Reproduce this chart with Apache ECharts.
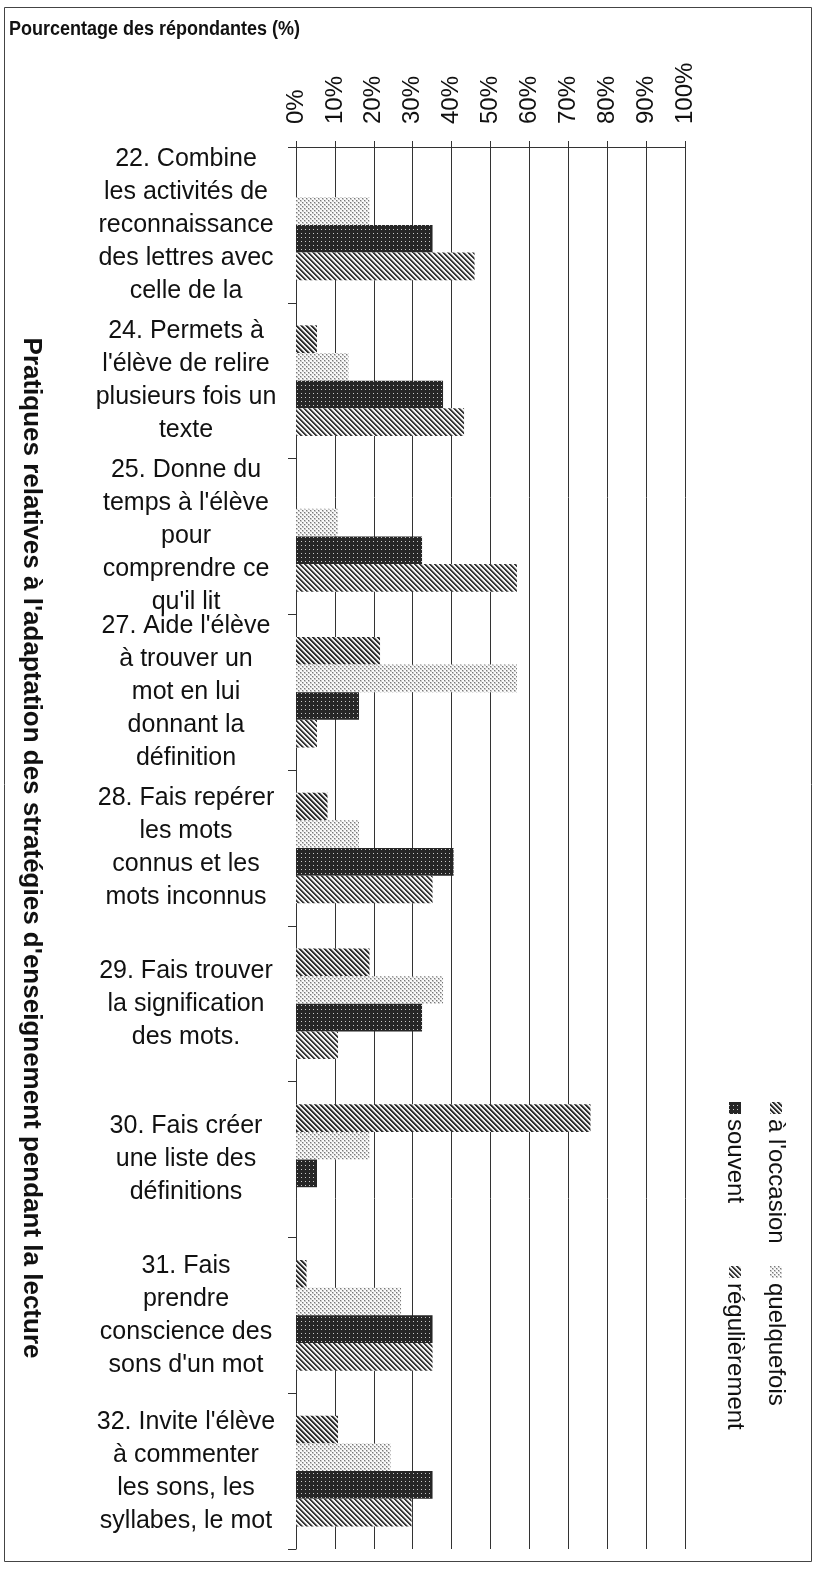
<!DOCTYPE html>
<html>
<head>
<meta charset="utf-8">
<script src="https://cdn.jsdelivr.net/npm/echarts@6/dist/echarts.min.js"></script>
<style>
  html, body { margin: 0; padding: 0; background: #fff; }
  #chart { width: 815px; height: 1572px; }
</style>
</head>
<body>
<div id="chart"></div>
<script>
// Practices (y categories), top to bottom
const categories = [
  "22. Combine\nles activités de\nreconnaissance\ndes lettres avec\ncelle de la",
  "24. Permets à\nl'élève de relire\nplusieurs fois un\ntexte",
  "25. Donne du\ntemps à l'élève\npour\ncomprendre ce\nqu'il lit",
  "27. Aide l'élève\nà trouver un\nmot en lui\ndonnant la\ndéfinition",
  "28. Fais repérer\nles mots\nconnus et les\nmots inconnus",
  "29. Fais trouver\nla signification\ndes mots.",
  "30. Fais créer\nune liste des\ndéfinitions",
  "31. Fais\nprendre\nconscience des\nsons d'un mot",
  "32. Invite l'élève\nà commenter\nles sons, les\nsyllabes, le mot"
];

const seriesNames = ["à l'occasion", "quelquefois", "souvent", "régulièrement"];

// Percentage of respondents per practice
const aLOccasion    = [0, 5.4, 0, 21.6, 8.1, 18.9, 75.7, 2.7, 10.8];
const quelquefois   = [18.9, 13.5, 10.8, 56.8, 16.2, 37.8, 18.9, 27.0, 24.3];
const souvent       = [35.1, 37.8, 32.4, 16.2, 40.5, 32.4, 5.4, 35.1, 35.1];
const regulierement = [45.9, 43.2, 56.8, 5.4, 35.1, 10.8, 0, 35.1, 29.7];

const xTicks = { min: 0, max: 100, interval: 10 };

const titleText = "Pourcentage des répondantes (%)";
const yAxisTitle = "Pratiques relatives à l'adaptation des stratégies d'enseignement pendant la lecture";

// --- fill patterns, built pixel by pixel on small canvases ---
function makePattern(size, painter) {
  const c = document.createElement('canvas');
  c.width = size; c.height = size;
  const ctx = c.getContext('2d');
  const img = ctx.createImageData(size, size);
  for (let y = 0; y < size; y++) {
    for (let x = 0; x < size; x++) {
      const v = painter(x, y);
      const i = (y * size + x) * 4;
      img.data[i] = v; img.data[i + 1] = v; img.data[i + 2] = v; img.data[i + 3] = 255;
    }
  }
  ctx.putImageData(img, 0, 0);
  return c;
}

const diag = (x, y, n) => ((x - y) % n + n) % n;
// diagonal "\" hatch, darker
const hatchDark = makePattern(5, (x, y) => diag(x, y, 5) < 2 ? 45 : (diag(x, y, 5) === 2 ? 130 : 238));
// diagonal "\" hatch, slightly lighter
const hatchLight = makePattern(5, (x, y) => diag(x, y, 5) < 2 ? 55 : (diag(x, y, 5) === 2 ? 160 : 245));
// light dots
const dotsLight = makePattern(4, (x, y) => ((x % 4 < 2) && (y % 4 < 2)) || ((x % 4 >= 2) && (y % 4 >= 2)) ? ((x + y) % 4 === 0 ? 120 : 200) : 250);
// dark with fine white dots
const darkDots = makePattern(4, (x, y) => (x % 4 === 1 && y % 4 === 1) ? 200 : 38);

const fills = [hatchDark, dotsLight, darkDots, hatchLight].map(img => ({ image: img, repeat: 'repeat' }));
const seriesData = [aLOccasion, quelquefois, souvent, regulierement];

const FONT = "'Liberation Sans', Arial, sans-serif";

const chart = echarts.init(document.getElementById('chart'), null, { renderer: 'canvas' });

// legend drawn as rotated text, reading top to bottom
const legendItems = [
  { col: 776, y: 1108 },
  { col: 776, y: 1272 },
  { col: 735, y: 1108 },
  { col: 735, y: 1272 }
];
const legendGraphics = [];
seriesNames.forEach((name, i) => {
  const p = legendItems[i];
  legendGraphics.push({
    type: 'rect',
    shape: { x: p.col - 6, y: p.y - 6, width: 12, height: 12 },
    style: { fill: fills[i] }
  });
  legendGraphics.push({
    type: 'text',
    x: p.col,
    y: p.y + 11,
    rotation: -Math.PI / 2,
    style: {
      text: name,
      font: '24px ' + FONT,
      fill: '#111',
      textAlign: 'left',
      textVerticalAlign: 'middle'
    }
  });
});

const option = {
  backgroundColor: '#fff',
  animation: false,
  textStyle: { fontFamily: FONT },
  grid: { left: 296, top: 147, right: 130, bottom: 23, containLabel: false },
  xAxis: {
    type: 'value',
    position: 'top',
    min: xTicks.min,
    max: xTicks.max,
    interval: xTicks.interval,
    axisLine: { show: true, lineStyle: { color: '#333', width: 1 } },
    axisTick: { show: true, length: 6, lineStyle: { color: '#333' } },
    axisLabel: {
      rotate: -90,
      margin: 23,
      formatter: '{value}%',
      fontSize: 24,
      color: '#111',
      fontFamily: FONT
    },
    splitLine: { show: true, lineStyle: { color: '#333', width: 1 } }
  },
  yAxis: {
    type: 'category',
    inverse: true,
    data: categories,
    name: yAxisTitle,
    nameLocation: 'middle',
    nameRotate: -90,
    nameGap: 252,
    nameTextStyle: { fontSize: 26, fontWeight: 'bold', color: '#111', fontFamily: FONT },
    axisLine: { show: true, lineStyle: { color: '#333', width: 1 } },
    axisTick: { show: true, length: 8, lineStyle: { color: '#333' } },
    axisLabel: {
      align: 'center',
      margin: 110,
      fontSize: 25,
      lineHeight: 33,
      color: '#111',
      fontFamily: FONT,
      interval: 0
    },
    splitLine: { show: false }
  },
  series: seriesNames.map((name, i) => ({
    name: name,
    type: 'bar',
    data: seriesData[i],
    barGap: '0%',
    barCategoryGap: '29%',
    itemStyle: { color: fills[i] },
    emphasis: { disabled: true }
  })),
  graphic: [
    {
      type: 'rect',
      shape: { x: 4.5, y: 7.5, width: 807, height: 1554 },
      style: { fill: 'none', stroke: '#444', lineWidth: 1 },
      z: -1
    },
    // chart title, slightly condensed bold
    {
      type: 'text',
      x: 9,
      y: 29,
      scaleX: 0.9,
      style: {
        text: titleText,
        font: 'bold 20px ' + FONT,
        fill: '#111',
        textAlign: 'left',
        textVerticalAlign: 'middle'
      }
    }
  ].concat(legendGraphics)
};

chart.setOption(option);
</script>
</body>
</html>
